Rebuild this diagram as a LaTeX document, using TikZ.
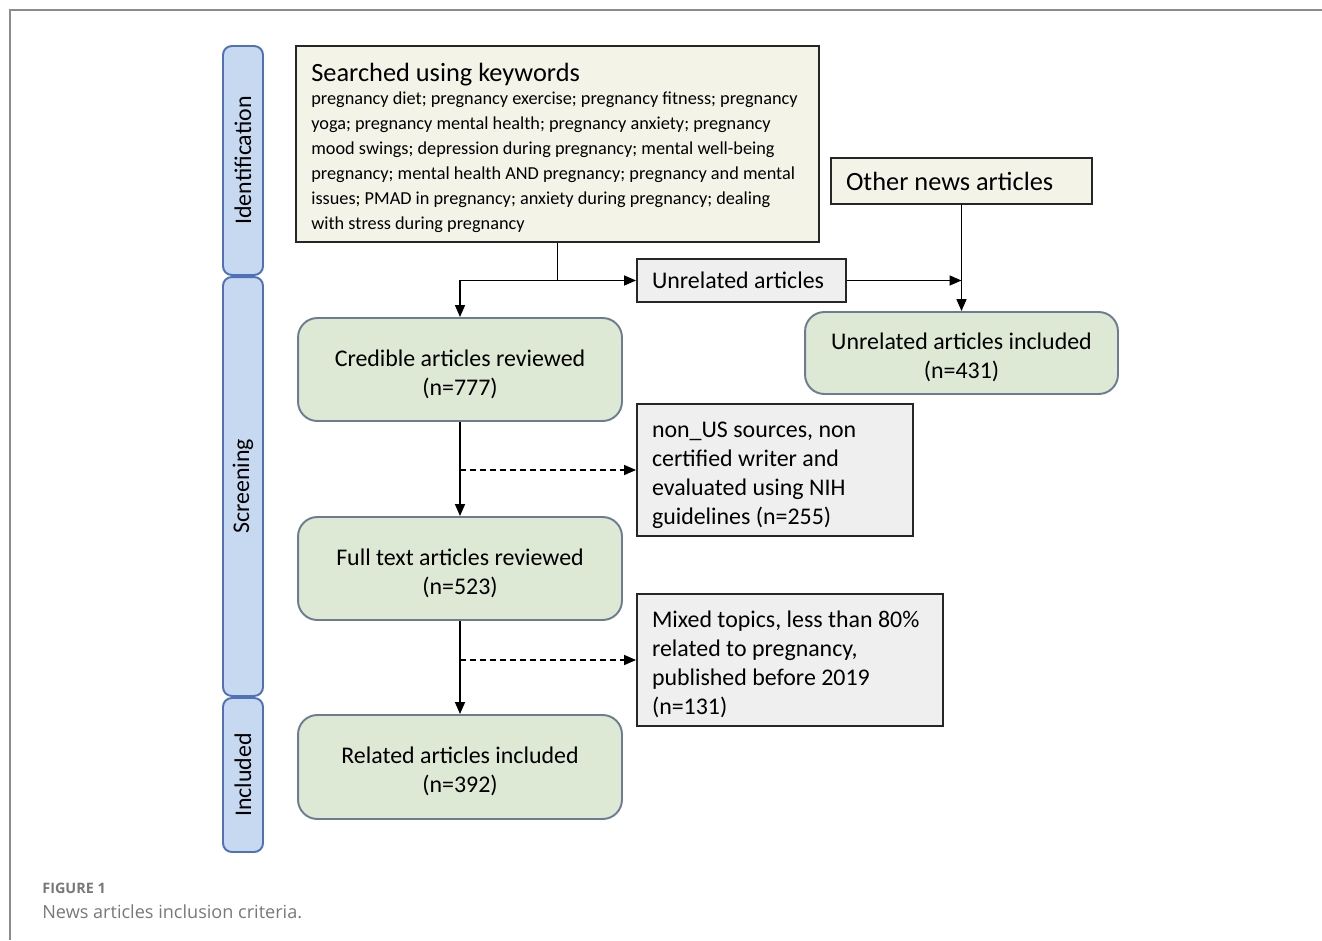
\documentclass[tikz,border=0pt]{standalone}
\usepackage{fontspec}
\setmainfont{Carlito}
\newfontfamily\capfont{Open Sans}
\usetikzlibrary{arrows.meta}
\definecolor{lanefill}{RGB}{198,217,240}
\definecolor{lanedraw}{RGB}{79,113,181}
\definecolor{beige}{RGB}{243,243,231}
\definecolor{greyfill}{RGB}{239,239,239}
\definecolor{greenfill}{RGB}{221,232,213}
\definecolor{greendraw}{RGB}{108,125,145}
\definecolor{framegrey}{RGB}{140,140,140}
\definecolor{captiongrey}{RGB}{120,120,120}
\newcommand\tpad{\rule{0pt}{14.5pt}}
\tikzset{
  lane/.style={draw=lanedraw, fill=lanefill, line width=1.1pt, rounded corners=5pt, minimum width=0.8cm, inner sep=0pt},
  lanetext/.style={rotate=90, font=\fontsize{13.6}{16}\selectfont},
  srcbox/.style={draw=black!85, fill=beige, line width=1.1pt, inner sep=0pt},
  greybox/.style={draw=black!85, fill=greyfill, line width=1.1pt, inner sep=0pt},
  greenbox/.style={draw=greendraw, fill=greenfill, line width=1.1pt, rounded corners=11pt, minimum width=6.48cm, align=center, font=\fontsize{13.6}{16.5}\selectfont},
  arr/.style={draw=black, line width=0.85pt, -{Triangle[length=2.4mm,width=2mm]}},
  plain/.style={draw=black, line width=0.85pt},
  dsh/.style={dash pattern=on 0.12cm off 0.08cm},
}
\begin{document}
\begin{tikzpicture}[x=0.02cm,y=-0.02cm]
\useasboundingbox (0,0) rectangle (1322,940);
% outer frame
\draw[framegrey, line width=1.1pt] (10,940) -- (10,10) -- (1322,10);
% lanes
\node[lane, minimum height=4.58cm] (lid) at (243,160.5) {};
\node[lanetext] (tid) at (lid.center) {Identification};
\node[lane, minimum height=8.38cm] (lsc) at (243,486.5) {};
\node[lanetext] (tsc) at (lsc.center) {Screening};
\node[lane, minimum height=3.08cm] (lin) at (243,775) {};
\node[lanetext] (tin) at (lin.center) {Included};
% boxes
\node[srcbox, minimum width=10.46cm, minimum height=3.92cm] (search) at (557.5,144) {};
\node[anchor=west, align=left, inner sep=0pt, font=\fontsize{10.4}{14.2}\selectfont] (stext) at (311,148)
 {{\fontsize{15}{18}\selectfont Searched using keywords}\\[-1pt]
  pregnancy diet; pregnancy exercise; pregnancy fitness; pregnancy\\
  yoga; pregnancy mental health; pregnancy anxiety; pregnancy\\
  mood swings; depression during pregnancy; mental well-being\\
  pregnancy; mental health AND pregnancy; pregnancy and mental\\
  issues; PMAD in pregnancy; anxiety during pregnancy; dealing\\
  with stress during pregnancy};
\node[srcbox, minimum width=5.22cm, minimum height=0.92cm, text width=4.62cm, inner xsep=0.3cm, align=flush left, font=\fontsize{15}{17}\selectfont] (other) at (961.5,181) {Other news articles};
\node[greybox, minimum width=4.18cm, minimum height=0.86cm, text width=3.58cm, inner xsep=0.3cm, align=flush left, font=\fontsize{13.6}{16}\selectfont] (unrel) at (741.5,280.5) {Unrelated articles};
\node[greenbox, minimum height=2.06cm] (cred) at (460,369.5) {\tpad Credible articles reviewed\\(n=777)};
\node[greenbox, minimum width=6.26cm, minimum height=1.64cm] (uinc) at (961.5,353) {\tpad Unrelated articles included\\(n=431)};
\node[greybox, minimum width=5.52cm, minimum height=2.64cm, text width=4.92cm, inner xsep=0.3cm, align=flush left, font=\fontsize{13.6}{16.5}\selectfont] (nonus) at (775,470) {\tpad non\_US sources, non\\certified writer and\\evaluated using NIH\\guidelines (n=255)};
\node[greenbox, minimum height=2.06cm] (full) at (460,568.5) {\tpad Full text articles reviewed\\(n=523)};
\node[greybox, minimum width=6.12cm, minimum height=2.64cm, text width=5.52cm, inner xsep=0.3cm, align=flush left, font=\fontsize{13.6}{16.5}\selectfont] (mixed) at (790,660) {\tpad Mixed topics, less than 80\%\\related to pregnancy,\\published before 2019\\(n=131)};
\node[greenbox, minimum height=2.08cm] (rel) at (460,767) {\tpad Related articles included\\(n=392)};
% connectors
\coordinate (j1) at (search.south |- unrel.west);
\draw[plain] (search.south) -- (j1);
\draw[arr] (j1) -| (cred.north);
\draw[arr] (j1) -- (unrel.west);
\draw[arr] (unrel.east) -- (unrel.east -| other.south);
\draw[arr] (other.south) -- (uinc.north);
\draw[arr] (cred.south) -- (full.north);
\draw[arr, dsh] (cred.south |- nonus.west) -- (nonus.west);
\draw[arr] (full.south) -- (rel.north);
\draw[arr, dsh] (full.south |- mixed.west) -- (mixed.west);
% caption
\node[anchor=west, inner sep=0pt, text=captiongrey, font=\capfont\bfseries\fontsize{8.2}{10}\selectfont] (fig) at (42,888) {FIGURE 1};
\node[anchor=west, inner sep=0pt, text=captiongrey, font=\capfont\fontsize{10.3}{12}\selectfont] (cap) at (42,912) {News articles inclusion criteria.};
\end{tikzpicture}
\end{document}
